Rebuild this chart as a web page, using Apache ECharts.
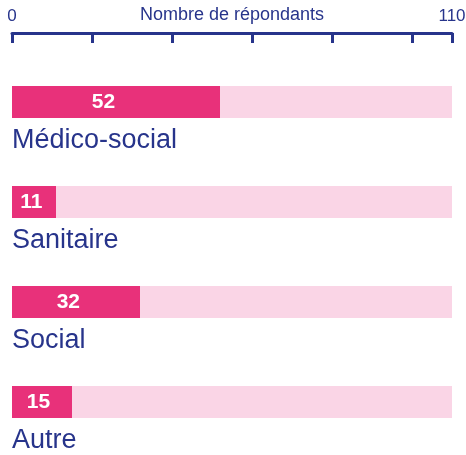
<!DOCTYPE html>
<html>
<head>
<meta charset="utf-8">
<script src="https://cdn.jsdelivr.net/npm/echarts@6/dist/echarts.min.js"></script>
<style>
  html, body { margin: 0; padding: 0; background: #fff; }
  #chart { width: 466px; height: 455px; }
</style>
</head>
<body>
<div id="chart"></div>
<script>
// données
var categories = ['Médico-social', 'Sanitaire', 'Social', 'Autre']
var values = [52, 11, 32, 15]
var axisMax = 110
var tickLabels = [0, 110]

var blue = '#27348B'
var pink = '#E8317A'
var lightPink = '#FAD5E6'
var font = '"Liberation Sans", Arial, sans-serif'

var myChart = echarts.init(document.getElementById('chart'))

var option = {
  animation: false,
  grid: {
    left: 12,
    right: 14,
    top: 52,
    bottom: 3,
    containLabel: false,
    outerBoundsMode: 'none'
  },
  xAxis: {
    type: 'value',
    position: 'top',
    offset: 19,
    min: 0,
    max: axisMax,
    interval: 20,
    name: 'Nombre de répondants',
    nameLocation: 'middle',
    nameGap: 9,
    nameMoveOverlap: false,
    nameTextStyle: {
      color: blue,
      fontFamily: font,
      fontSize: 18,
      verticalAlign: 'bottom'
    },
    axisLine: {
      show: true,
      lineStyle: { color: blue, width: 3 }
    },
    axisTick: {
      show: true,
      inside: true,
      length: 10,
      lineStyle: { color: blue, width: 3 }
    },
    axisLabel: {
      margin: 8,
      color: blue,
      fontFamily: font,
      fontSize: 17,
      formatter: function (v) {
        return tickLabels.indexOf(v) > -1 ? String(v) : ''
      }
    },
    splitLine: { show: false }
  },
  yAxis: {
    type: 'category',
    inverse: true,
    data: categories,
    show: false
  },
  series: [
    {
      // fond
      type: 'bar',
      barWidth: 32,
      barGap: '-100%',
      silent: true,
      itemStyle: { color: lightPink },
      label: {
        show: true,
        position: [0, 55],
        align: 'left',
        verticalAlign: 'middle',
        formatter: '{b}',
        color: blue,
        fontFamily: font,
        fontSize: 27
      },
      data: categories.map(function () { return axisMax })
    },
    {
      type: 'bar',
      barWidth: 32,
      itemStyle: { color: pink },
      label: {
        show: true,
        position: ['44%', '50%'],
        align: 'center',
        verticalAlign: 'middle',
        color: '#fff',
        fontFamily: font,
        fontWeight: 'bold',
        fontSize: 21
      },
      data: values
    }
  ]
}

myChart.setOption(option)
window.onresize = function () {
  myChart.resize()
}
</script>
</body>
</html>
